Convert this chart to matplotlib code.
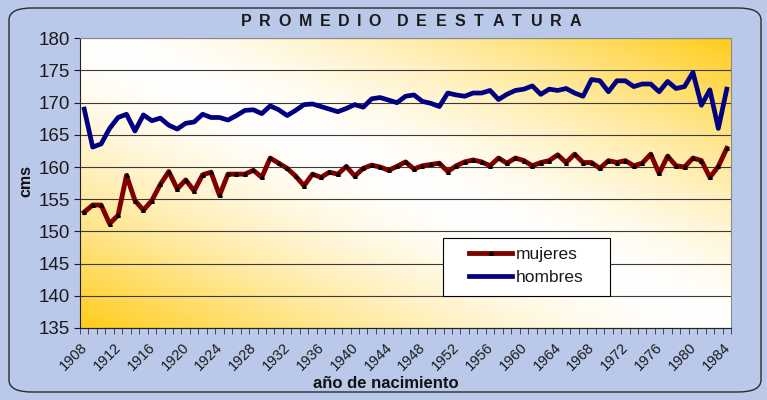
import numpy as np
import matplotlib
matplotlib.use("Agg")
import matplotlib.pyplot as plt
from matplotlib.patches import FancyBboxPatch, Rectangle
from matplotlib.textpath import TextPath
from matplotlib.font_manager import FontProperties
from matplotlib.transforms import ScaledTranslation

plt.rcParams['font.family'] = ['Liberation Sans', 'DejaVu Sans']

years = np.arange(1908, 1985)

mujeres = [153.0, 154.1, 154.1, 151.2, 152.5, 158.7, 154.8, 153.3, 154.8, 157.3,
           159.3, 156.6, 158.0, 156.3, 158.8, 159.2, 155.6, 158.9, 158.9, 158.9,
           159.5, 158.4, 161.4, 160.6, 159.8, 158.6, 157.1, 158.9, 158.4, 159.2,
           158.9, 160.1, 158.6, 159.8, 160.3, 160.0, 159.5, 160.1, 160.8, 159.7,
           160.2, 160.4, 160.6, 159.3, 160.2, 160.8, 161.1, 160.8, 160.2, 161.4,
           160.6, 161.4, 161.0, 160.2, 160.7, 161.0, 161.9, 160.7, 162.0, 160.7,
           160.7, 159.8, 161.0, 160.7, 161.0, 160.2, 160.6, 162.0, 159.0, 161.7,
           160.2, 160.0, 161.4, 161.0, 158.4, 160.1, 162.9]

hombres = [169.0, 163.1, 163.6, 166.0, 167.7, 168.2, 165.6, 168.1, 167.2, 167.6,
           166.5, 165.9, 166.8, 167.0, 168.2, 167.7, 167.7, 167.3, 168.0, 168.8,
           168.9, 168.3, 169.5, 168.9, 168.0, 168.8, 169.7, 169.8, 169.4, 169.0,
           168.6, 169.1, 169.7, 169.3, 170.6, 170.8, 170.4, 170.0, 171.0, 171.2,
           170.2, 169.9, 169.4, 171.5, 171.2, 171.0, 171.5, 171.5, 171.9, 170.5,
           171.3, 171.9, 172.1, 172.6, 171.3, 172.1, 171.9, 172.2, 171.5, 171.0,
           173.6, 173.4, 171.7, 173.4, 173.4, 172.5, 172.9, 172.9, 171.7, 173.3,
           172.2, 172.5, 174.7, 169.6, 172.0, 166.0, 172.1]

yticks = list(range(135, 181, 5))
title = "PROMEDIO DE ESTATURA"

W, H = 767, 400
fig = plt.figure(figsize=(W / 100, H / 100), dpi=100)
fig.patch.set_facecolor('#bac9ea')

# rounded frame round the chart
frame = FancyBboxPatch((9 / W, 8 / H), 752 / W, 384 / H,
                       boxstyle="round,pad=0,rounding_size=0.03",
                       transform=fig.transFigure, facecolor='none',
                       edgecolor='#2a2a2a', linewidth=1.0)
fig.patches.append(frame)

left, right, top, bottom = 80, 731, 38.3, 328
ax = fig.add_axes([left / W, 1 - bottom / H, (right - left) / W, (bottom - top) / H])

def ax_xy(x, y):
    # figure pixels -> axes fraction
    return (x - left) / (right - left), (bottom - y) / (bottom - top)

# white to gold diagonal fill of the plot area
u = np.linspace(0, 1, 400)
v = np.linspace(1, 0, 200)
U, V = np.meshgrid(u, v)
k = np.abs(U + V - 1) ** 1.5
white = np.array([1.0, 1.0, 1.0])
gold = np.array([1.0, 0.80, 0.10])
img = white[None, None, :] * (1 - k[..., None]) + gold[None, None, :] * k[..., None]
ax.imshow(img, extent=[0, 1, 0, 1], transform=ax.transAxes, aspect='auto', zorder=0)

for y in yticks:
    ax.axhline(y, color='#3a3a3a', lw=0.8, zorder=1)

ax.plot(years, mujeres, color='#800000', lw=3.5, solid_joinstyle='round',
        marker='^', markersize=2.6, markerfacecolor='black', markeredgecolor='black',
        label='mujeres', zorder=3)
ax.plot(years, hombres, color='#000080', lw=3.4, solid_joinstyle='round',
        label='hombres', zorder=3)

ax.set_xlim(years[0] - 0.5, years[-1] + 0.5)
ax.set_ylim(135, 180)
ax.set_yticks(yticks)
ax.set_xticks(years[::4])
ax.set_xticks(np.append(years - 0.5, years[-1] + 0.5), minor=True)
ax.tick_params(axis='x', which='major', length=0, pad=9, labelsize=10.5,
               labelrotation=45, colors='#1a1a1a')
ax.tick_params(axis='x', which='minor', length=4, direction='out', color='#333333')
ax.tick_params(axis='y', length=4, direction='out', labelsize=13.5,
               colors='#1a1a1a', pad=3)
shift = ScaledTranslation(-4 / 100, 0, fig.dpi_scale_trans)
for lab in ax.get_xticklabels():
    lab.set_ha('right')
    lab.set_rotation_mode('anchor')
    lab.set_transform(lab.get_transform() + shift)

for side in ['top', 'right']:
    ax.spines[side].set_color('#8a8a8a')
for side in ['left', 'bottom']:
    ax.spines[side].set_color('#222222')

# legend box drawn by hand, legend entries inside it
x0, y0 = ax_xy(443, 296)
x1, y1 = ax_xy(610, 238)
ax.add_patch(Rectangle((x0, y0), x1 - x0, y1 - y0, transform=ax.transAxes,
                       facecolor='white', edgecolor='black', lw=0.8, zorder=4))
leg = ax.legend(loc='center left', bbox_to_anchor=ax_xy(469, 266), borderaxespad=0,
                borderpad=0, fontsize=12.5, frameon=False, handlelength=2.5,
                handletextpad=0.2, labelspacing=0.5)
leg.set_zorder(5)
for t in leg.get_texts():
    t.set_color('#1a1a1a')

# spaced-out title, letter by letter
fp = FontProperties(family='Liberation Sans', weight='bold', size=11.5)
px = fig.dpi / 72
word_gaps = [8, 2]
widths = [TextPath((0, 0), ch, prop=fp).get_extents().width * px if ch != ' ' else 0
          for ch in title]
n_letters = sum(1 for ch in title if ch != ' ')
track = (339 - sum(widths) - sum(word_gaps)) / (n_letters - 1)
xpos = 241.0
gi = 0
for ch, w in zip(title, widths):
    if ch == ' ':
        xpos += word_gaps[gi]
        gi += 1
        continue
    fig.text(xpos / W, 1 - 21 / H, ch, ha='left', va='center',
             fontproperties=fp, color='#1a1a1a')
    xpos += w + track

fig.text(386 / W, 1 - 383 / H, 'año de nacimiento', ha='center', va='center',
         fontsize=12, fontweight='bold', color='#111111')
fig.text(26 / W, 1 - 181 / H, 'cms', ha='center', va='center', rotation=90,
         fontsize=11.5, fontweight='bold', color='#111111')

fig.savefig('out.png', dpi=100, facecolor=fig.get_facecolor())
